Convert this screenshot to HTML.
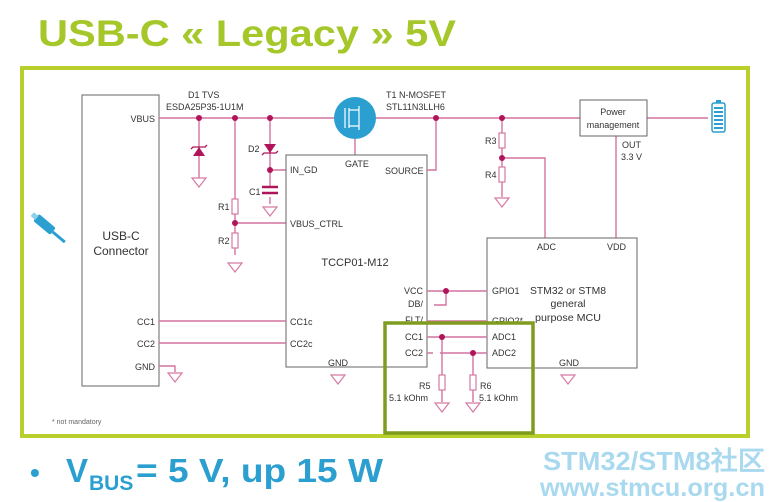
<!DOCTYPE html>
<html><head><meta charset="utf-8"><style>
html,body{margin:0;padding:0;background:#fff;width:772px;height:502px;overflow:hidden}
svg{display:block}
text{font-family:"Liberation Sans",Arial,sans-serif;fill:#333}
.s{font-size:9px}
.w{stroke:#d374a0;stroke-width:1.4;fill:none}
.b{stroke:#666;stroke-width:1;fill:none}
.d{fill:#b0145a}
.g{stroke:#d67aa4;stroke-width:1.2;fill:#fff}
</style></head><body>
<svg width="772" height="502" viewBox="0 0 772 502">
<text x="38" y="46" font-size="37" font-weight="bold" style="fill:#a5c72a" textLength="418" lengthAdjust="spacingAndGlyphs">USB-C « Legacy » 5V</text>
<rect x="22" y="68" width="726" height="368" fill="none" stroke="#b9cf2c" stroke-width="4"/>
<rect x="82" y="95" width="77" height="291" class="b"/>
<text x="121" y="240" font-size="12" text-anchor="middle">USB-C</text>
<text x="121" y="255" font-size="12" text-anchor="middle">Connector</text>
<text class="s" x="155" y="122" text-anchor="end">VBUS</text>
<text class="s" x="155" y="325" text-anchor="end">CC1</text>
<text class="s" x="155" y="347" text-anchor="end">CC2</text>
<text class="s" x="155" y="370" text-anchor="end">GND</text>
<g transform="translate(48,228) rotate(-50)"><rect x="-4" y="-16" width="9" height="22" rx="2" fill="#2a9fd0"/><rect x="-2" y="-21" width="5" height="6" fill="#8cd0ec"/><line x1="0" y1="6" x2="0" y2="22" stroke="#2a9fd0" stroke-width="3"/></g>
<path class="w" d="M159 118H334M376 118H580M647 118H708"/>
<circle cx="355" cy="118" r="21" fill="#2a9fd0"/>
<path d="M345 108v20M349 108v20M349 110h10v-4M349 126h10v4M359 110v16" stroke="#fff" stroke-width="1.2" fill="none"/>
<path class="w" d="M355 139V155"/>
<rect x="712" y="103" width="13" height="29" rx="2" fill="none" stroke="#2a9fd0" stroke-width="1.5"/>
<rect x="716" y="100" width="5" height="3" fill="#2a9fd0"/>
<path d="M714 108h9M714 112h9M714 116h9M714 120h9M714 124h9M714 128h9" stroke="#2a9fd0" stroke-width="2"/>
<text class="s" x="188" y="98">D1 TVS</text>
<text class="s" x="166" y="110">ESDA25P35-1U1M</text>
<text class="s" x="386" y="98">T1 N-MOSFET</text>
<text class="s" x="386" y="110">STL11N3LLH6</text>
<path class="w" d="M199 118V178"/>
<path d="M193 156h12l-6-9z" fill="#b0145a"/><path d="M191 149l2-2h12l2-2" stroke="#b0145a" stroke-width="1.3" fill="none"/>
<path class="g" d="M192 178h14l-7 9z"/>
<path class="w" d="M235 118V255M235 223H286"/>
<rect x="232" y="199" width="6" height="15" class="g"/><rect x="232" y="233" width="6" height="15" class="g"/>
<path class="g" d="M228 263h14l-7 9z"/>
<text class="s" x="218" y="210">R1</text><text class="s" x="218" y="244">R2</text>
<path class="w" d="M270 118V186M270 170H286M270 197V204"/>
<path d="M264 144h12l-6 9z" fill="#b0145a"/><path d="M262 155l2 -2h12l2-2" stroke="#b0145a" stroke-width="1.3" fill="none"/>
<path d="M262 187h16M262 193h16" stroke="#b0145a" stroke-width="2.5"/>
<path class="g" d="M263 207h14l-7 9z"/>
<text class="s" x="248" y="152">D2</text><text class="s" x="249" y="195">C1</text>
<rect x="286" y="155" width="141" height="212" class="b"/>
<text class="s" x="290" y="173">IN_GD</text>
<text class="s" x="290" y="227">VBUS_CTRL</text>
<text class="s" x="345" y="167">GATE</text>
<text class="s" x="385" y="174">SOURCE</text>
<text x="355" y="266" font-size="11" text-anchor="middle">TCCP01-M12</text>
<text class="s" x="290" y="325">CC1c</text>
<text class="s" x="290" y="347">CC2c</text>
<text class="s" x="328" y="366">GND</text>
<text class="s" x="423" y="294" text-anchor="end">VCC</text>
<text class="s" x="423" y="307" text-anchor="end">DB/</text>
<text class="s" x="423" y="323" text-anchor="end">FLT/</text>
<text class="s" x="423" y="340" text-anchor="end">CC1</text>
<text class="s" x="423" y="356" text-anchor="end">CC2</text>
<path class="w" d="M427 170H436V118M159 321H286M159 343H286M159 366H175V372"/>
<path class="g" d="M168 373h14l-7 9z"/>
<path class="g" d="M331 375h14l-7 9z"/>
<path class="g" d="M561 375h14l-7 9z"/>
<path class="w" d="M502 118V197M502 158H545V238M616 136V238"/>
<rect x="499" y="133" width="6" height="15" class="g"/><rect x="499" y="167" width="6" height="15" class="g"/>
<path class="g" d="M495 198h14l-7 9z"/>
<text class="s" x="485" y="144">R3</text><text class="s" x="485" y="178">R4</text>
<rect x="580" y="100" width="67" height="36" class="b"/>
<text class="s" x="613" y="115" text-anchor="middle">Power</text>
<text class="s" x="613" y="128" text-anchor="middle">management</text>
<text class="s" x="622" y="148">OUT</text><text class="s" x="621" y="160">3.3 V</text>
<rect x="487" y="238" width="150" height="130" class="b"/>
<text class="s" x="537" y="250">ADC</text><text class="s" x="607" y="250">VDD</text>
<text class="s" x="492" y="294">GPIO1</text>
<text class="s" x="492" y="324">GPIO2*</text>
<text class="s" x="492" y="340">ADC1</text>
<text class="s" x="492" y="356">ADC2</text>
<text class="s" x="559" y="366">GND</text>
<text x="568" y="294" font-size="10.5" text-anchor="middle" textLength="76" lengthAdjust="spacingAndGlyphs">STM32 or STM8</text>
<text x="568" y="307" font-size="10.5" text-anchor="middle">general</text>
<text x="568" y="321" font-size="10.5" text-anchor="middle" textLength="66" lengthAdjust="spacingAndGlyphs">purpose MCU</text>
<path class="w" d="M427 291H487M446 291V305H434M427 321H487M427 337H487M427 353H433M440 353H487"/>
<path class="w" d="M442 337V402M473 353V402"/>
<rect x="439" y="375" width="6" height="15" class="g"/><rect x="470" y="375" width="6" height="15" class="g"/>
<path class="g" d="M435 403h14l-7 9z"/><path class="g" d="M466 403h14l-7 9z"/>
<text class="s" x="419" y="389">R5</text><text class="s" x="480" y="389">R6</text>
<text class="s" x="389" y="401">5.1 kOhm</text><text class="s" x="479" y="401">5.1 kOhm</text>
<rect x="385" y="323" width="148" height="110" fill="none" stroke="#7e9c1e" stroke-width="3.5"/>
<g class="d"><circle cx="199" cy="118" r="3"/><circle cx="235" cy="118" r="3"/><circle cx="270" cy="118" r="3"/><circle cx="235" cy="223" r="3"/><circle cx="270" cy="170" r="3"/><circle cx="436" cy="118" r="3"/><circle cx="502" cy="118" r="3"/><circle cx="502" cy="158" r="3"/><circle cx="446" cy="291" r="3"/><circle cx="442" cy="337" r="3"/><circle cx="473" cy="353" r="3"/></g>
<text x="52" y="424" font-size="7" style="fill:#666">* not mandatory</text>
<text x="30" y="482" font-size="28" font-weight="bold" style="fill:#2a9fd0">•</text>
<text x="66" y="482" font-size="33" font-weight="bold" style="fill:#2a9fd0">V</text>
<text x="89" y="490" font-size="21" font-weight="bold" style="fill:#2a9fd0">BUS</text>
<text x="136" y="482" font-size="33" font-weight="bold" style="fill:#2a9fd0" textLength="247" lengthAdjust="spacingAndGlyphs">= 5 V, up 15 W</text>
<text x="543" y="470" font-size="26" font-weight="bold" style="fill:#a9d9ef" textLength="222" lengthAdjust="spacingAndGlyphs" font-family="Liberation Sans, Noto Sans CJK SC, sans-serif">STM32/STM8社区</text>
<text x="540" y="496" font-size="25" font-weight="bold" style="fill:#a9d9ef" textLength="225" lengthAdjust="spacingAndGlyphs">www.stmcu.org.cn</text>
</svg>
</body></html>
